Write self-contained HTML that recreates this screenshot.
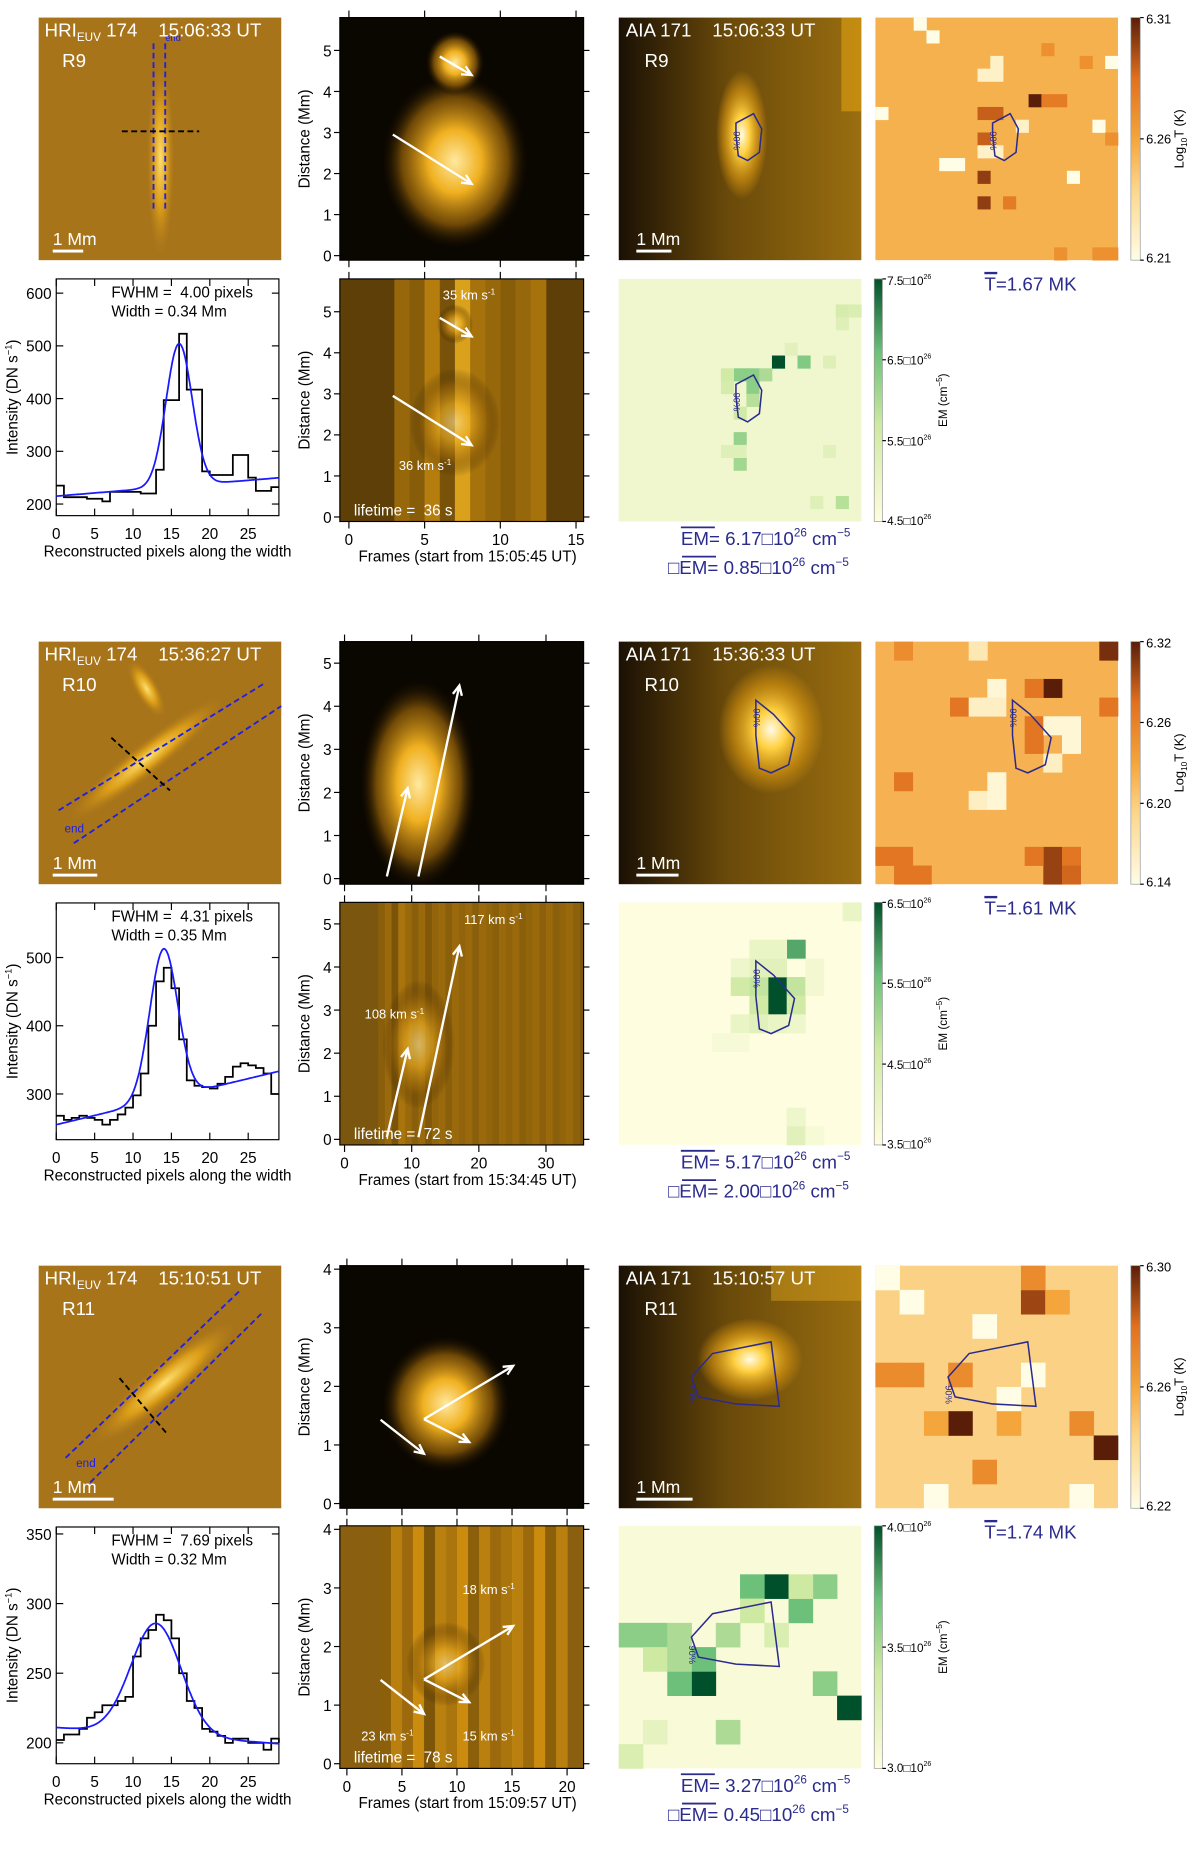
<!DOCTYPE html>
<html><head><meta charset="utf-8"><style>
html,body{margin:0;padding:0;background:#fff}
svg{display:block}
text{font-family:"Liberation Sans",Arial,sans-serif}
</style></head><body>
<svg id="fig" xmlns="http://www.w3.org/2000/svg" width="1200" height="1857" viewBox="0 0 1024 1584.6" preserveAspectRatio="none">
<defs>
<linearGradient id="tbar" x1="0" y1="1" x2="0" y2="0"><stop offset="0" stop-color="#fffde6"/><stop offset="0.3" stop-color="#fbd58a"/><stop offset="0.5" stop-color="#f4a53c"/><stop offset="0.75" stop-color="#e0701f"/><stop offset="1" stop-color="#5a1d08"/></linearGradient>
<linearGradient id="embar" x1="0" y1="1" x2="0" y2="0"><stop offset="0" stop-color="#fffde0"/><stop offset="0.4" stop-color="#cde9a2"/><stop offset="0.7" stop-color="#6cc07a"/><stop offset="1" stop-color="#00512b"/></linearGradient>
<radialGradient id="blob"><stop offset="0" stop-color="#ffe9a0"/><stop offset="0.35" stop-color="#f0b020"/><stop offset="0.7" stop-color="#8a5a08" stop-opacity="0.8"/><stop offset="1" stop-color="#000" stop-opacity="0"/></radialGradient>
<radialGradient id="spot"><stop offset="0" stop-color="#fffbe8"/><stop offset="0.3" stop-color="#ffd040"/><stop offset="0.7" stop-color="#d09010" stop-opacity="0.7"/><stop offset="1" stop-color="#d09010" stop-opacity="0"/></radialGradient>
<radialGradient id="streak"><stop offset="0" stop-color="#ffe070"/><stop offset="0.5" stop-color="#e8a818" stop-opacity="0.8"/><stop offset="1" stop-color="#b07a18" stop-opacity="0"/></radialGradient>
<linearGradient id="aiaL" x1="0" y1="0" x2="1" y2="0"><stop offset="0" stop-color="#1a1004"/><stop offset="0.45" stop-color="#6a4a0a"/><stop offset="1" stop-color="#9a6e10"/></linearGradient>
</defs>
</svg>
<script>
// ---------- DATA ----------
const rowLabels = ["R9","R10","R11"];
const hriTimes = ["15:06:33 UT","15:36:27 UT","15:10:51 UT"];
const aiaTimes = ["15:06:33 UT","15:36:33 UT","15:10:57 UT"];
const frameStart = ["15:05:45 UT","15:34:45 UT","15:09:57 UT"];
const lifetimes = ["36 s","72 s","78 s"];
const fwhmText = ["4.00","4.31","7.69"];
const widthText = ["0.34","0.35","0.32"];
const tMean = ["1.67","1.61","1.74"];
const emMean = ["6.17","5.17","3.27"];
const emSigma = ["0.85","2.00","0.45"];

// intensity profiles (DN/s) per reconstructed pixel 0..29
const profR9  = [235,213,213,213,210,210,205,223,223,223,223,220,220,265,397,397,523,417,417,262,255,255,255,293,293,250,225,225,232,232];
const profR10 = [268,262,265,268,265,262,255,262,270,280,298,330,400,465,485,455,380,320,312,310,308,315,325,340,345,342,338,330,300,300];
const profR11 = [202,206,206,210,218,222,227,227,230,233,262,275,281,292,288,275,250,230,225,210,208,205,200,203,203,200,200,195,203,200];
const profiles = [profR9, profR10, profR11];
// gaussian fit params: [baseline0, slope, amplitude, center, sigma]
const fitR9  = [215,1.2,270,16,1.7];
const fitR10 = [255,2.7,220,14,1.83];
const fitR11 = [211,-0.4,80,13,3.27];
const fits = [fitR9, fitR10, fitR11];
const profYRange = [[178,627],[233,580],[185,355]];
const profYTicks = [[200,300,400,500,600],[300,400,500],[200,250,300,350]];
const profXTicks = [0,5,10,15,20,25];

// x-t plots
const frameRange = [[-0.6,15.5],[-0.7,35.6],[-0.64,21.5]];
const frameTicks = [[0,5,10,15],[0,10,20,30],[0,5,10,15,20]];
const distRange = [[-0.11,5.8],[-0.13,5.5],[-0.08,4.06]];
const distTicks = [[0,1,2,3,4,5],[0,1,2,3,4,5],[0,1,2,3,4]];
// arrows [frame0,dist0,frame1,dist1]
const arrowsR9  = [[6.0,4.85,8.1,4.4],[2.9,2.95,8.1,1.75]];
const arrowsR10 = [[6.3,0.05,9.4,2.1],[11.0,0.05,17.1,4.48]];
const arrowsR11 = [[3.06,1.43,7.0,0.85],[7.0,1.44,11.1,1.05],[7.0,1.44,15.1,2.35]];
const arrows = [arrowsR9, arrowsR10, arrowsR11];
// speed labels [frame, dist, text]
const speedsR9  = [[6.2,5.3,"35"],[3.3,1.15,"36"]];
const speedsR10 = [[17.8,5.0,"117"],[3.0,2.8,"108"]];
const speedsR11 = [[10.5,2.9,"18"],[1.3,0.4,"23"],[10.5,0.4,"15"]];
const speeds = [speedsR9, speedsR10, speedsR11];
// xt blob centre/radius [frame, dist, rFrames, rDist]
const blobsTop = [[[7,2.3,5,2.2],[7,4.7,2,0.8]],[[11,2.2,9,2.5]],[[9,1.7,6,1.2]]];
// detrended column brightness (0..1) for bottom xt, active frame window
const colsR9  = [0.5,0.45,0.6,0.4,0.75,0.55,0.5,0.45,0.5,0.55];
const colsR10 = [0.45,0.5,0.4,0.55,0.5,0.45,0.5,0.42,0.48,0.5,0.45,0.5,0.47,0.5,0.45,0.5,0.48,0.45,0.5,0.47,0.5,0.45,0.48,0.5,0.46,0.5,0.45,0.48,0.5,0.46];
const colsR11 = [0.45,0.6,0.5,0.65,0.4,0.6,0.55,0.65,0.45,0.6,0.5,0.55,0.6,0.5,0.65,0.45,0.6];
const colsBot = [colsR9, colsR10, colsR11];
const colStart = [3,5,3];

// temperature maps (log T) : grid size, base, highlighted cells [col,row,val]
const tGrid = [19,13,10];
const tBase = [6.255,6.22,6.245];
const tCellsR9 = [[12,6,6.31],[8,7,6.29],[9,7,6.29],[8,9,6.29],[8,12,6.30],[8,14,6.30],[10,14,6.28],[13,6,6.28],[14,6,6.28],[3,0,6.21],[4,1,6.21],[0,7,6.21],[9,3,6.22],[8,4,6.22],[9,4,6.22],[5,11,6.21],[6,11,6.21],[8,10,6.22],[9,10,6.22],[15,12,6.21],[17,8,6.21],[18,3,6.21],[11,8,6.22],[13,2,6.27],[16,3,6.27],[18,9,6.27],[17,18,6.27],[18,18,6.27],[14,18,6.27]];
const tCellsR10 = [[12,0,6.31],[9,2,6.32],[9,11,6.30],[9,12,6.30],[8,2,6.27],[4,3,6.27],[8,4,6.27],[8,5,6.27],[0,11,6.27],[1,11,6.27],[8,11,6.27],[10,11,6.27],[1,12,6.27],[2,12,6.27],[10,12,6.28],[12,3,6.27],[1,7,6.27],[6,2,6.15],[5,3,6.16],[6,3,6.16],[9,4,6.15],[10,4,6.15],[10,5,6.15],[9,6,6.16],[6,7,6.15],[5,8,6.16],[6,8,6.15],[5,0,6.17],[1,0,6.25]];
const tCellsR11 = [[6,1,6.29],[3,6,6.30],[9,7,6.30],[6,0,6.27],[4,8,6.27],[8,6,6.27],[0,4,6.27],[1,4,6.27],[3,4,6.27],[2,6,6.26],[0,0,6.22],[1,1,6.22],[5,5,6.22],[6,4,6.22],[8,9,6.22],[2,9,6.22],[4,2,6.22],[7,1,6.26],[5,6,6.26]];
const tCells = [tCellsR9, tCellsR10, tCellsR11];
const tRange = [[6.21,6.31],[6.14,6.32],[6.22,6.30]];
const tTicks = [["6.31","6.26","6.21"],["6.32","6.26","6.20","6.14"],["6.30","6.26","6.22"]];

// EM maps (1e26 cm^-5)
const emBase = [4.85,3.5,3.05];
const emCellsR9 = [[12,6,7.5],[14,6,6.4],[9,7,6.3],[10,7,6.3],[10,8,6.3],[11,7,6.0],[9,12,6.2],[9,14,6.1],[10,9,5.9],[9,10,5.6],[17,17,5.9],[17,2,5.5],[18,2,5.4],[8,7,5.6],[8,8,5.5],[16,6,5.3],[13,5,5.2],[17,3,5.3],[8,13,5.3],[9,13,5.3],[16,13,5.2],[15,17,5.3]];
const emCellsR10 = [[8,4,6.5],[8,5,6.5],[9,2,5.8],[7,4,4.8],[7,5,4.6],[6,4,4.6],[9,4,4.8],[9,5,4.6],[7,3,4.2],[8,3,4.2],[6,3,3.9],[7,2,4.0],[8,2,4.0],[6,6,4.0],[7,6,4.2],[8,6,4.0],[9,6,3.9],[12,0,4.0],[9,11,3.9],[9,12,4.2],[10,12,3.7],[10,3,3.8],[10,4,3.8],[5,7,3.7],[6,7,3.7]];
const emCellsR11 = [[6,2,4.0],[3,6,4.0],[9,7,4.0],[5,2,3.7],[7,3,3.7],[8,2,3.6],[3,5,3.7],[2,6,3.7],[0,4,3.6],[1,4,3.6],[2,4,3.5],[1,5,3.4],[2,5,3.5],[4,4,3.5],[5,3,3.4],[4,8,3.5],[8,6,3.6],[6,4,3.3],[7,2,3.4],[0,9,3.3],[1,8,3.2]];
const emCells = [emCellsR9, emCellsR10, emCellsR11];
const emRange = [[4.5,7.5],[3.5,6.5],[3.0,4.0]];
const emTicks = [["7.5","6.5","5.5","4.5"],["6.5","5.5","4.5","3.5"],["4.0","3.5","3.0"]];

// ---------- LAYOUT ----------
const NS = "http://www.w3.org/2000/svg";
const svg = document.getElementById("fig");
const rowOff = [0,532.5,1065];
const SP = "\u00a0";
function el(tag, attrs, parent){
  const e = document.createElementNS(NS, tag);
  for (const k in attrs) e.setAttribute(k, attrs[k]);
  (parent||svg).appendChild(e);
  return e;
}
function txt(x,y,s,size,fill,anchor,parent){
  const t = el("text",{x:x,y:y,"font-size":size,fill:fill||"#000","text-anchor":anchor||"start"},parent);
  t.textContent = s; return t;
}
function lerpHex(a,b,t){const pa=parseInt(a.slice(1),16),pb=parseInt(b.slice(1),16);
  const r=Math.round(((pa>>16)&255)*(1-t)+((pb>>16)&255)*t),g=Math.round(((pa>>8)&255)*(1-t)+((pb>>8)&255)*t),bl=Math.round((pa&255)*(1-t)+(pb&255)*t);
  return "rgb("+r+","+g+","+bl+")";}
function ramp(stops,v){v=Math.max(0,Math.min(1,v));for(let i=1;i<stops.length;i++){if(v<=stops[i][0]){const t=(v-stops[i-1][0])/(stops[i][0]-stops[i-1][0]);return lerpHex(stops[i-1][1],stops[i][1],t);}}return stops[stops.length-1][1];}
const tStops=[[0,"#fffde6"],[0.3,"#fbd58a"],[0.5,"#f4a53c"],[0.75,"#e0701f"],[1,"#5a1d08"]];
const emStops=[[0,"#fffde0"],[0.4,"#cde9a2"],[0.7,"#6cc07a"],[1,"#00512b"]];
const aiaStops=[[0,"#000000"],[0.35,"#6a4808"],[0.65,"#d09010"],[0.85,"#ffc830"],[1,"#ffffff"]];

function axisBox(x,y,w,h,g){ el("rect",{x:x,y:y,width:w,height:h,fill:"none",stroke:"#000","stroke-width":1},g); }

for (let r=0;r<3;r++){
  const o = rowOff[r];
  const g = el("g",{});
  
  

  // ---- HRI image ----
  const hx=33, hy=15+o, S=207;
  const hg = el("g",{},g);
  
  
  el("rect",{x:hx,y:hy,width:S,height:S,fill:"#a8741a"},hg);
  if(r===0){
    el("ellipse",{cx:137,cy:hy+120,rx:12,ry:85,fill:"url(#streak)"},hg);
    el("line",{x1:131,y1:hy+22,x2:131,y2:hy+165,stroke:"#2020e0","stroke-width":1.6,"stroke-dasharray":"5,3"},hg);
    el("line",{x1:141,y1:hy+22,x2:141,y2:hy+165,stroke:"#2020e0","stroke-width":1.6,"stroke-dasharray":"5,3"},hg);
    el("line",{x1:104,y1:hy+97,x2:170,y2:hy+97,stroke:"#000","stroke-width":1.6,"stroke-dasharray":"5,3"},hg);
    txt(141,hy+20,"end",8,"#2020e0","start",hg);
  } else if(r===1){
    el("ellipse",{cx:125,cy:hy+100,rx:85,ry:14,fill:"url(#streak)",transform:"rotate(-38 125 "+(hy+100)+")"},hg);
    el("ellipse",{cx:125,cy:hy+40,rx:28,ry:10,fill:"url(#streak)",transform:"rotate(60 125 "+(hy+40)+")"},hg);
    el("line",{x1:50,y1:hy+144,x2:225,y2:hy+36,stroke:"#2020e0","stroke-width":1.6,"stroke-dasharray":"5,3"},hg);
    el("line",{x1:63,y1:hy+172,x2:240,y2:hy+55,stroke:"#2020e0","stroke-width":1.6,"stroke-dasharray":"5,3"},hg);
    el("line",{x1:95,y1:hy+82,x2:145,y2:hy+127,stroke:"#000","stroke-width":1.6,"stroke-dasharray":"5,3"},hg);
    txt(55,hy+163,"end",10,"#2020e0","start",hg);
  } else {
    el("ellipse",{cx:140,cy:hy+100,rx:80,ry:16,fill:"url(#streak)",transform:"rotate(-40 140 "+(hy+100)+")"},hg);
    el("line",{x1:56,y1:hy+164,x2:204,y2:hy+22,stroke:"#2020e0","stroke-width":1.6,"stroke-dasharray":"5,3"},hg);
    el("line",{x1:77,y1:hy+185,x2:225,y2:hy+39,stroke:"#2020e0","stroke-width":1.6,"stroke-dasharray":"5,3"},hg);
    el("line",{x1:102,y1:hy+96,x2:143,y2:hy+144,stroke:"#000","stroke-width":1.6,"stroke-dasharray":"5,3"},hg);
    txt(65,hy+172,"end",10,"#2020e0","start",hg);
  }
  const ht = txt(38,hy+16,"HRI",16,"#fff","start",hg);
  const sub = el("tspan",{"font-size":10,dy:4},ht); sub.textContent="EUV";
  const t2 = el("tspan",{dy:-4},ht); t2.textContent=SP+"174"+SP+SP+SP+SP+hriTimes[r];
  txt(53,hy+42,rowLabels[r],16,"#fff","start",hg);
  const sbw = r===2?52:r===1?38:26;
  txt(45,hy+194,"1 Mm",15,"#fff","start",hg);
  el("rect",{x:45,y:hy+198,width:sbw,height:2.5,fill:"#fff"},hg);

  // ---- Profile plot ----
  const px=48, py=238+o, pw=190, ph=202;
  const pg = el("g",{},g);
  
  
  const yr=profYRange[r];
  const sx = v=>px+v*pw/29, sy = v=>py+ph-(v-yr[0])/(yr[1]-yr[0])*ph;
  axisBox(px,py,pw,ph,pg);
  profXTicks.forEach(t=>{ el("line",{x1:sx(t),y1:py+ph,x2:sx(t),y2:py+ph-6,stroke:"#000"},pg); el("line",{x1:sx(t),y1:py,x2:sx(t),y2:py+6,stroke:"#000"},pg); txt(sx(t),py+ph+20,String(t),13,"#000","middle",pg); });
  profYTicks[r].forEach(t=>{ el("line",{x1:px,y1:sy(t),x2:px+6,y2:sy(t),stroke:"#000"},pg); el("line",{x1:px+pw,y1:sy(t),x2:px+pw-6,y2:sy(t),stroke:"#000"},pg); txt(px-4,sy(t)+5,String(t),13,"#000","end",pg); });
  let d="";
  profiles[r].forEach((v,i)=>{ d += (i===0?"M":"L")+sx(i)+","+sy(v)+" L"+sx(Math.min(i+1,29))+","+sy(v)+" "; });
  const hist = el("path",{d:d,fill:"none",stroke:"#000","stroke-width":1.5},pg);
  
  
  const f=fits[r]; let fd="";
  for(let k=0;k<=290;k++){const xv=k/10; const yv=f[0]+f[1]*xv+f[2]*Math.exp(-0.5*Math.pow((xv-f[3])/f[4],2)); fd+=(k?"L":"M")+sx(xv).toFixed(1)+","+sy(yv).toFixed(1);}
  const fit = el("path",{d:fd,fill:"none",stroke:"#1a1aff","stroke-width":1.5},pg);
  
  
  txt(95,py+16,"FWHM ="+SP+SP+fwhmText[r]+" pixels",13,"#000","start",pg);
  txt(95,py+32,"Width = "+widthText[r]+" Mm",13,"#000","start",pg);
  const yl = txt(0,0,"Intensity (DN s",13,"#000","middle",pg);
  const ys=el("tspan",{"font-size":8,dy:-5},yl); ys.textContent="−1";
  const ye=el("tspan",{dy:5},yl); ye.textContent=")";
  yl.setAttribute("transform","translate(15,"+(py+ph/2)+") rotate(-90)");
  txt(143,py+237,"Reconstructed pixels along the width",13,"#000","middle",pg);

  // ---- x-t plots ----
  const fr=frameRange[r], dr=distRange[r];
  [[15+o,"top"],[[238,770,1302][r],"bottom"]].forEach(([ty,which])=>{
    const X=290,W=208,H=207,Y=ty;
    const xg = el("g",{},g);
    
    
    const fx=v=>X+(v-fr[0])/(fr[1]-fr[0])*W, fy=v=>Y+H-(v-dr[0])/(dr[1]-dr[0])*H;
    const clipId="clip"+r+which;
    const cp=el("clipPath",{id:clipId},xg); el("rect",{x:X,y:Y,width:W,height:H},cp);
    const ig=el("g",{"clip-path":"url(#"+clipId+")"},xg);
    if(which==="top"){
      el("rect",{x:X,y:Y,width:W,height:H,fill:"#0a0600"},ig);
      blobsTop[r].forEach(b=>{ el("ellipse",{cx:fx(b[0]),cy:fy(b[1]),rx:Math.abs(fx(b[0]+b[2])-fx(b[0])),ry:Math.abs(fy(b[1]+b[3])-fy(b[1])),fill:"url(#blob)"},ig); });
    } else {
      el("rect",{x:X,y:Y,width:W,height:H,fill:r===1?"#7a560e":(r===0?"#5e3f08":"#8a6010")},ig);
      const cols=colsBot[r];
      cols.forEach((c,i)=>{ el("rect",{x:fx(colStart[r]+i),y:Y,width:fx(colStart[r]+i+1)-fx(colStart[r]+i)+0.5,height:H,fill:ramp(aiaStops,c),opacity:0.9},ig); });
      blobsTop[r].forEach(b=>{ el("ellipse",{cx:fx(b[0]),cy:fy(b[1]),rx:Math.abs(fx(b[0]+b[2])-fx(b[0]))*0.6,ry:Math.abs(fy(b[1]+b[3])-fy(b[1]))*0.6,fill:"url(#blob)",opacity:0.6},ig); });
    }
    axisBox(X,Y,W,H,xg);
    frameTicks[r].forEach(t=>{ el("line",{x1:fx(t),y1:Y+H,x2:fx(t),y2:Y+H+6,stroke:"#000"},xg); el("line",{x1:fx(t),y1:Y,x2:fx(t),y2:Y-6,stroke:"#000"},xg);
      if(which==="bottom") txt(fx(t),Y+H+20,String(t),13,"#000","middle",xg); });
    distTicks[r].forEach(t=>{ el("line",{x1:X,y1:fy(t),x2:X-5,y2:fy(t),stroke:"#000"},xg); el("line",{x1:X+W,y1:fy(t),x2:X+W+5,y2:fy(t),stroke:"#000"},xg); txt(X-7,fy(t)+5,String(t),13,"#000","end",xg); });
    const dl=txt(0,0,"Distance (Mm)",13,"#000","middle",xg);
    dl.setAttribute("transform","translate("+(X-26)+","+(Y+H/2)+") rotate(-90)");
    arrows[r].forEach(a=>{
      const x1=fx(a[0]),y1=fy(a[1]),x2=fx(a[2]),y2=fy(a[3]);
      const ang=Math.atan2(y2-y1,x2-x1);
      const ar=el("path",{d:"M"+x1+","+y1+"L"+x2+","+y2+"M"+(x2-9*Math.cos(ang-0.45))+","+(y2-9*Math.sin(ang-0.45))+"L"+x2+","+y2+"L"+(x2-9*Math.cos(ang+0.45))+","+(y2-9*Math.sin(ang+0.45)),fill:"none",stroke:"#fff","stroke-width":2},xg);
      
      
    });
    if(which==="bottom"){
      speeds[r].forEach(s=>{ const t=txt(fx(s[0]),fy(s[1]),s[2]+" km s",11,"#fff","start",xg); const sp=el("tspan",{"font-size":7,dy:-4},t); sp.textContent="-1"; });
      txt(X+12,Y+H-5,"lifetime ="+SP+SP+lifetimes[r],13,"#fff","start",xg);
      txt(X+W/2+5,Y+H+34,"Frames (start from "+frameStart[r]+")",13,"#000","middle",xg);
    }
  });

  // ---- AIA image ----
  const ax=528, ay=15+o;
  const ag=el("g",{},g);
  
  
  el("rect",{x:ax,y:ay,width:S,height:S,fill:"url(#aiaL)"},ag);
  const sc=[[105,100,22,55],[130,75,45,55],[112,80,45,35]][r];
  el("ellipse",{cx:ax+sc[0],cy:ay+sc[1],rx:sc[2],ry:sc[3],fill:"url(#spot)"},ag);
  if(r===0) el("rect",{x:ax+190,y:ay,width:17,height:80,fill:"#e0a010",opacity:0.6},ag);
  if(r===2) el("rect",{x:ax+130,y:ay,width:77,height:30,fill:"#e8b020",opacity:0.4},ag);
  txt(ax+6,ay+16,"AIA 171"+SP+SP+SP+SP+aiaTimes[r],16,"#fff","start",ag);
  txt(ax+22,ay+42,rowLabels[r],16,"#fff","start",ag);
  txt(ax+15,ay+194,"1 Mm",15,"#fff","start",ag);
  el("rect",{x:ax+15,y:ay+198,width:[30,36,48][r],height:2.5,fill:"#fff"},ag);

  // contour polygon (relative)
  const cont=[[[100,90],[115,82],[122,95],[120,115],[110,122],[102,118],[100,100]],[[117,50],[132,62],[150,82],[145,105],[130,112],[120,108],[117,80]],[[62,95],[80,75],[130,65],[137,120],[100,118],[68,112]]][r];
  function drawContour(bx,by,parent){
    const p=el("polygon",{points:cont.map(q=>(bx+q[0])+","+(by+q[1])).join(" "),fill:"none",stroke:"#2b2b8e","stroke-width":1.3},parent);
    
    
    const lx=bx+cont[0][0]-2, ly=by+cont[0][1]+15;
    const t=txt(0,0,"90%",8,"#2b2b8e","middle",parent); t.setAttribute("transform","translate("+lx+","+ly+") rotate(90)");
  }
  drawContour(ax,ay,ag);

  // ---- Temperature map ----
  const tx=747, tyy=15+o, N=tGrid[r], cs=S/N, trg=tRange[r];
  const tg=el("g",{},g);
  
  
  el("rect",{x:tx,y:tyy,width:S,height:S,fill:ramp(tStops,(tBase[r]-trg[0])/(trg[1]-trg[0]))},tg);
  tCells[r].forEach(c=>{ const cell=el("rect",{x:tx+c[0]*cs,y:tyy+c[1]*cs,width:cs+0.3,height:cs+0.3,fill:ramp(tStops,(c[2]-trg[0])/(trg[1]-trg[0]))},tg);
    
     });
  drawContour(tx,tyy,tg);
  const cb=el("g",{},g);
  
  
  el("rect",{x:965,y:tyy,width:8,height:S,fill:"url(#tbar)",stroke:"#999","stroke-width":0.6},cb);
  const tt=tTicks[r];
  tt.forEach((s,i)=>{ const yy=tyy+i*S/(tt.length-1); el("line",{x1:973,y1:yy,x2:976,y2:yy,stroke:"#000"},cb); txt(978,yy+(i===0?5:i===tt.length-1?2:4),s,11,"#000","start",cb); });
  const tl=txt(0,0,"Log",11,"#000","middle",cb); const tsb=el("tspan",{"font-size":7,dy:3},tl); tsb.textContent="10"; const tse=el("tspan",{dy:-3},tl); tse.textContent="T (K)";
  tl.setAttribute("transform","translate(1010,"+(tyy+S/2)+") rotate(-90)");
  const tm=txt(840,tyy+233,"T=",16,"#2b2b8e","start",g); const tms=el("tspan",{},tm); tms.textContent=tMean[r]+" MK";
  el("line",{x1:840,y1:tyy+218,x2:851,y2:tyy+218,stroke:"#2b2b8e","stroke-width":2},g);

  // ---- EM map ----
  const ex=528, ey=[238,770,1302][r], erg=emRange[r];
  const eg=el("g",{},g);
  
  
  el("rect",{x:ex,y:ey,width:S,height:S,fill:ramp(emStops,(emBase[r]-erg[0])/(erg[1]-erg[0]))},eg);
  emCells[r].forEach(c=>{ const cell=el("rect",{x:ex+c[0]*cs,y:ey+c[1]*cs,width:cs+0.3,height:cs+0.3,fill:ramp(emStops,(c[2]-erg[0])/(erg[1]-erg[0]))},eg);
    
     });
  drawContour(ex,ey,eg);
  const ecb=el("g",{},g);
  
  
  el("rect",{x:746,y:ey,width:7,height:S,fill:"url(#embar)",stroke:"#999","stroke-width":0.6},ecb);
  const et=emTicks[r];
  et.forEach((s,i)=>{ const yy=ey+i*S/(et.length-1); el("line",{x1:753,y1:yy,x2:756,y2:yy,stroke:"#000"},ecb); const t=txt(757,yy+(i===0?5:i===et.length-1?3:4),s+"□10",10,"#000","start",ecb); const sp=el("tspan",{"font-size":6,dy:-5},t); sp.textContent="26"; });
  const eml=txt(0,0,"EM (cm",10,"#000","middle",ecb); const es=el("tspan",{"font-size":7,dy:-4},eml); es.textContent="−5"; const ee=el("tspan",{dy:4},eml); ee.textContent=")";
  eml.setAttribute("transform","translate(808,"+(ey+S/2)+") rotate(-90)");
  [[emMean[r],"","EM= ",ey+227],[emSigma[r],"□","EM= ",ey+252]].forEach(([v,pre,lab,yy],k)=>{
    const t=txt(k?570:581,yy,pre+lab+v+"□10",16,"#2b2b8e","start",g);
    const s1=el("tspan",{"font-size":10,dy:-7},t); s1.textContent="26";
    const s2=el("tspan",{dy:7},t); s2.textContent=SP+"cm";
    const s3=el("tspan",{"font-size":10,dy:-7},t); s3.textContent="−5";
    el("line",{x1:k?582:581,y1:yy-15,x2:k?611:610,y2:yy-15,stroke:"#2b2b8e","stroke-width":1.5},g);
  });
}
</script>
</body></html>
